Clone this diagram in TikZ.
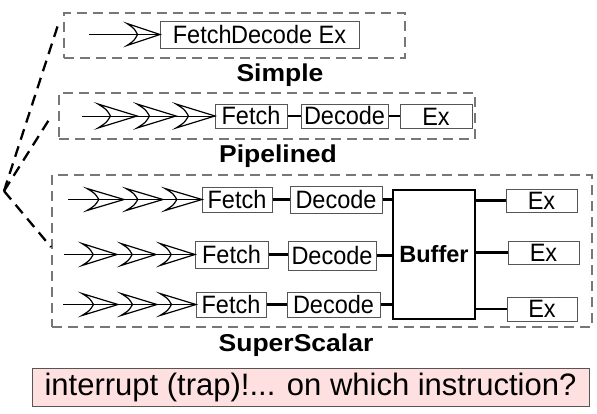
\documentclass[tikz,border=0pt]{standalone}
\usepackage{fontspec}
\setmainfont{Liberation Sans}
\newcommand\bxfont{\fontsize{23.5}{24}\selectfont}
\newcommand\lblfont{\fontsize{26.5}{28}\selectfont\bfseries}
\newcommand\tallt[1]{\scalebox{1}[1.07]{#1}}
\newcommand\flatt[1]{\scalebox{1}[0.92]{#1}}
\definecolor{boxgray}{HTML}{555555}
\definecolor{dashgray}{HTML}{777777}
\definecolor{pinkfill}{HTML}{FFE0E0}
\tikzset{
  stagebox/.style={draw=boxgray, line width=1, inner sep=0, font=\bxfont},
  groupbox/.style={draw=dashgray, line width=1.3, dash pattern=on 10pt off 6pt, inner sep=0},
  grouplabel/.style={anchor=base, inner sep=0, font=\lblfont},
  feed/.style={draw=black, line width=1},
  link/.style={draw=black, line width=2.2},
  fan/.style={draw=black, line width=2.3, dash pattern=on 11pt off 7pt},
  chevstyle/.style={draw=black, line width=1.2, line join=miter},
  pics/chev/.style n args={2}{code={
    \draw[chevstyle] (0,-#2) .. controls ({0.22*#1},{-0.55*#2}) .. ({0.32*#1},0)
      .. controls ({0.22*#1},{0.55*#2}) .. (0,#2)
      -- (#1,0) -- cycle;
  }},
}
\begin{document}
\begin{tikzpicture}[x=1pt,y=-1pt]
\useasboundingbox (0,0) rectangle (597,413);

% group boxes
\node[groupbox, minimum width=341, minimum height=45] (gs) at (234.5,35.5) {};
\node[groupbox, minimum width=416, minimum height=46] (gp) at (267,116) {};
\node[groupbox, minimum width=540, minimum height=152] (gss) at (322,251) {};

% labels
\node[grouplabel] (ls) at (280,81) {\flatt{Simple}};
\node[grouplabel] (lp) at (278,162) {\flatt{Pipelined}};
\node[grouplabel] (lss) at (296,351) {\flatt{SuperScalar}};

% fan of dashed lines
\coordinate (apex) at (4,191);
\coordinate (t1) at (58,25);
\coordinate (t2) at (52,115);
\coordinate (t3) at (51,247);
\draw[fan] (apex) -- (t1);
\draw[fan] (apex) -- (t2);
\draw[fan] (apex) -- (t3);

% Simple
\node[stagebox, minimum width=199, minimum height=27] (sb) at (259.5,34.5) {\tallt{Fetch\kern-0.5pt Decode Ex}};
\coordinate (s0) at (89,34.5);
\draw[feed] (s0) -- (sb.west);
\pic at (127,34.5) {chev={33}{11}};

% Pipelined
\node[stagebox, minimum width=72, minimum height=24] (pf) at (251,116) {\tallt{Fetch}};
\node[stagebox, minimum width=87, minimum height=24] (pd) at (344.5,116) {\tallt{Decode}};
\node[stagebox, minimum width=72, minimum height=24] (pe) at (436,116.5) {\tallt{Ex}};
\coordinate (sp) at (82,116);
\draw[feed] (sp) -- (pf.west);
\pic at (98,116) {chev={39}{12}};
\pic at (137,116) {chev={39}{12}};
\pic at (176,116) {chev={39}{12}};
\draw[link] (pf.east) -- (pd.west);
\draw[link] (pd.east) -- (pd.east -| pe.west);

% SuperScalar
\node[stagebox, minimum width=70, minimum height=25] (f1) at (237,199.5) {\tallt{Fetch}};
\node[stagebox, minimum width=92, minimum height=27] (d1) at (336,199.5) {\tallt{Decode}};
\node[stagebox, minimum width=73, minimum height=27] (f2) at (231.5,254.5) {\tallt{Fetch}};
\node[stagebox, minimum width=88, minimum height=29] (d2) at (332,255.5) {\tallt{Decode}};
\node[stagebox, minimum width=70, minimum height=25] (f3) at (231,304.5) {\tallt{Fetch}};
\node[stagebox, minimum width=93, minimum height=25] (d3) at (333.5,304.5) {\tallt{Decode}};
\node[draw=black, line width=2.5, inner sep=0, minimum width=82, minimum height=129, font=\fontsize{23.5}{24}\selectfont\bfseries] (bf) at (434,254.5) {Buffer};
\node[stagebox, minimum width=71, minimum height=23] (e1) at (541.5,200.5) {\tallt{Ex}};
\node[stagebox, minimum width=71, minimum height=23] (e2) at (543.5,252.5) {\tallt{Ex}};
\node[stagebox, minimum width=70, minimum height=24] (e3) at (542,309) {\tallt{Ex}};

\coordinate (s1) at (68,199.5);
\coordinate (s2) at (64,254.5);
\coordinate (s3) at (63,304.5);
\draw[feed] (s1) -- (f1.west);
\draw[feed] (s2) -- (f2.west);
\draw[feed] (s3) -- (f3.west);
\foreach \x in {87,126,165} \pic at (\x,199.5) {chev={37}{11}};
\foreach \x in {82,121,160} \pic at (\x,254.5) {chev={35}{11}};
\foreach \x in {82,121,160} \pic at (\x,304.5) {chev={36}{11}};

\draw[link] (f1.east) -- (d1.west);
\draw[link] (f2.east) -- (f2.east -| d2.west);
\draw[link] (f3.east) -- (d3.west);
\draw[link] (d1.east) -- (d1.east -| bf.west);
\draw[link] (d2.east) -- (d2.east -| bf.west);
\draw[link] (d3.east) -- (d3.east -| bf.west);
\draw[link] (e1.west -| bf.east) -- (e1.west);
\draw[link] (e2.west -| bf.east) -- (e2.west);
\draw[link] (e3.west -| bf.east) -- (e3.west);

% interrupt note
\node[draw=boxgray, fill=pinkfill, line width=1, inner sep=0, minimum width=557, minimum height=38, font=\fontsize{31}{33}\selectfont] (note) at (310.5,387) {interrupt (trap)!... on which instruction?};
\end{tikzpicture}
\end{document}
